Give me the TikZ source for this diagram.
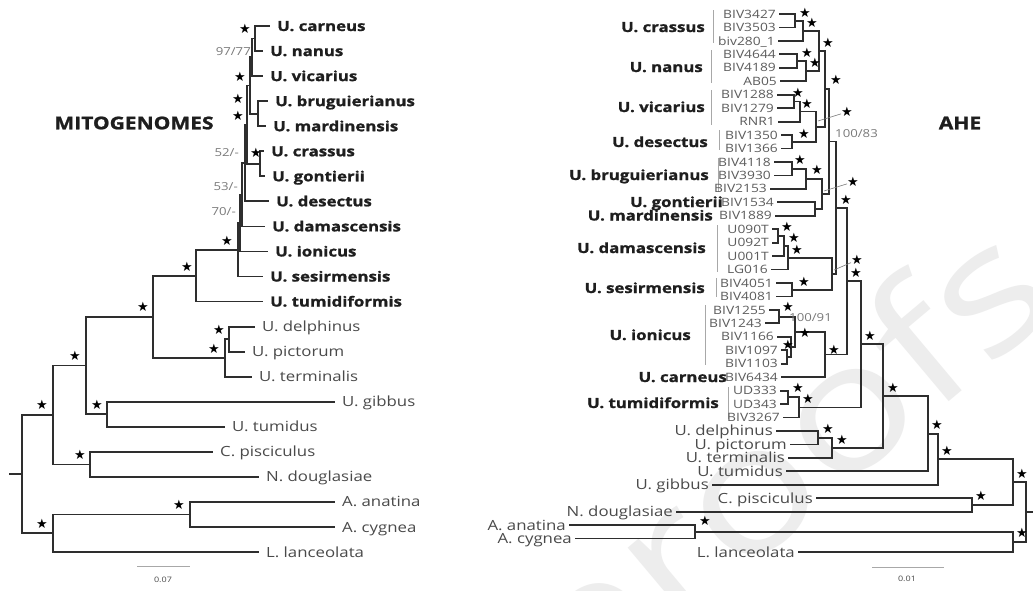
\documentclass[tikz,border=0pt]{standalone}
\usepackage{fontspec}
\setmainfont{Open Sans}[FakeStretch=1.2, BoldFeatures={FakeBold=1.2}]
\newfontfamily\starfont{DejaVu Sans}
\usetikzlibrary{calc}
\definecolor{linec}{HTML}{2E2E2E}
\definecolor{boldc}{HTML}{1E1E1E}
\definecolor{regc}{HTML}{4A4A4A}
\definecolor{tipc}{HTML}{5C5C5C}
\definecolor{numc}{HTML}{7A7A7A}
\definecolor{barc}{HTML}{A8A8A8}
\definecolor{wmc}{HTML}{EDEDED}
\begin{document}
\begin{tikzpicture}[x=1pt,y=-1pt,
  br/.style={draw=linec, line width=1.8pt, line join=miter},
  lb/.style={font=\fontsize{14}{14}\selectfont\bfseries, text=boldc, anchor=west, inner xsep=7pt, inner ysep=0pt, text height=10pt, text depth=0pt},
  lr/.style={font=\fontsize{14}{14}\selectfont, text=regc, anchor=west, inner xsep=7pt, inner ysep=0pt, text height=10pt, text depth=0pt},
  rb/.style={font=\fontsize{14}{14}\selectfont\bfseries, text=boldc, anchor=east, inner sep=0pt, text height=10pt, text depth=0pt},
  rr/.style={font=\fontsize{14}{14}\selectfont, text=regc, anchor=east, inner xsep=3pt, inner ysep=0pt, text height=10pt, text depth=0pt},
  tip/.style={font=\fontsize{11.5}{11.5}\selectfont, text=tipc, anchor=east, inner xsep=3pt, inner ysep=0pt, text height=8.2pt, text depth=0pt},
  st/.style={font=\starfont\fontsize{13}{13}\selectfont, text=black, inner sep=0pt},
  bs/.style={font=\fontsize{11}{11}\selectfont, text=numc, inner sep=0pt},
  title/.style={font=\fontsize{17.5}{17.5}\selectfont\bfseries, text=boldc, inner sep=0pt},
  sbar/.style={draw=barc, line width=0.9pt},
  sepbar/.style={draw=barc, line width=0.9pt},
  lead/.style={draw=numc, line width=0.6pt},
  wmark/.style={font=\fontsize{175}{175}\selectfont, text=wmc, inner sep=0pt}
]
\useasboundingbox[fill=white] (0,0) rectangle (1033,590);
\node[wmark, rotate=40] (wm) at (790,475) {proofs};

% ================= LEFT: MITOGENOMES =================
\node[title] (ltitle) at (134,123) {MITOGENOMES};

\node[lb] (carneus) at (270,26) {U. carneus};
\node[lb] (nanus) at (263,51.05) {U. nanus};
\node[lb] (vicarius) at (263,76.1) {U. vicarius};
\node[lb] (brug) at (268,101.15) {U. bruguierianus};
\node[lb] (mard) at (266,126.2) {U. mardinensis};
\node[lb] (crassus) at (264,151.25) {U. crassus};
\node[lb] (gont) at (265,176.3) {U. gontierii};
\node[lb] (desectus) at (269,201.35) {U. desectus};
\node[lb] (damasc) at (265,226.4) {U. damascensis};
\node[lb] (ionicus) at (268,251.45) {U. ionicus};
\node[lb] (sesir) at (263,276.5) {U. sesirmensis};
\node[lb] (tumidif) at (263,301.55) {U. tumidiformis};
\node[lr] (delph) at (255,326.6) {U. delphinus};
\node[lr] (pict) at (245,351.65) {U. pictorum};
\node[lr] (termin) at (252,376.7) {U. terminalis};
\node[lr] (gibbus) at (335,401.75) {U. gibbus};
\node[lr] (tumidus) at (225,426.8) {U. tumidus};
\node[lr] (pisc) at (213,451.85) {C. pisciculus};
\node[lr] (doug) at (259,476.9) {N. douglasiae};
\node[lr] (anat) at (335,501.95) {A. anatina};
\node[lr] (cyg) at (335,527) {A. cygnea};
\node[lr] (lanc) at (259,552.05) {L. lanceolata};

\coordinate (ncn) at (255,38.5);
\coordinate (ncnv) at (252,57.3);
\coordinate (nbm) at (258,113.7);
\coordinate (np2) at (250,85.5);
\coordinate (ncg) at (260,163.8);
\coordinate (np3) at (247,124.6);
\coordinate (np4) at (245,163.0);
\coordinate (np5) at (242,194.7);
\coordinate (np6) at (240,223.1);
\coordinate (nE) at (238,249.8);
\coordinate (nD) at (196,275.7);
\coordinate (ndp) at (229,339.1);
\coordinate (nQ) at (225,357.9);
\coordinate (nC) at (153,316.8);
\coordinate (nG) at (107,414.3);
\coordinate (nB) at (86,365.5);
\coordinate (nH) at (90,464.4);
\coordinate (nA) at (53,415.0);
\coordinate (nM) at (190,514.5);
\coordinate (nL) at (53,533.3);
\coordinate (lroot) at (22,474.1);
\coordinate (lstub) at (9,474.1);

\draw[br] (ncn) |- (carneus.west);
\draw[br] (ncn) |- (nanus.west);
\draw[br] (ncnv) |- (ncn);
\draw[br] (ncnv) |- (vicarius.west);
\draw[br] (nbm) |- (brug.west);
\draw[br] (nbm) |- (mard.west);
\draw[br] (np2) |- (ncnv);
\draw[br] (np2) |- (nbm);
\draw[br] (ncg) |- (crassus.west);
\draw[br] (ncg) |- (gont.west);
\draw[br] (np3) |- (np2);
\draw[br] (np3) |- (ncg);
\draw[br] (np4) |- (np3);
\draw[br] (np4) |- (desectus.west);
\draw[br] (np5) |- (np4);
\draw[br] (np5) |- (damasc.west);
\draw[br] (np6) |- (np5);
\draw[br] (np6) |- (ionicus.west);
\draw[br] (nE) |- (np6);
\draw[br] (nE) |- (sesir.west);
\draw[br] (nD) |- (nE);
\draw[br] (nD) |- (tumidif.west);
\draw[br] (ndp) |- (delph.west);
\draw[br] (ndp) |- (pict.west);
\draw[br] (nQ) |- (ndp);
\draw[br] (nQ) |- (termin.west);
\draw[br] (nC) |- (nD);
\draw[br] (nC) |- (nQ);
\draw[br] (nG) |- (gibbus.west);
\draw[br] (nG) |- (tumidus.west);
\draw[br] (nB) |- (nC);
\draw[br] (nB) |- (nG);
\draw[br] (nH) |- (pisc.west);
\draw[br] (nH) |- (doug.west);
\draw[br] (nA) |- (nB);
\draw[br] (nA) |- (nH);
\draw[br] (nM) |- (anat.west);
\draw[br] (nM) |- (cyg.west);
\draw[br] (nL) |- (nM);
\draw[br] (nL) |- (lanc.west);
\draw[br] (lroot) |- (nA);
\draw[br] (lroot) |- (nL);
\draw[br] (lstub) -- (lroot);

\foreach \p in {(245,29),(240,77),(238,99),(238,116),(256,153),(227,241),(187,267),(143,307),(75,356),(219,330),(214,349),(97,405),(42,405),(80,455),(179,505),(42,524)}
  \node[st] at \p {★};
\node[bs, anchor=east] (b9777) at (251,52) {97/77};
\node[bs, anchor=east] (b52) at (239,153) {52/-};
\node[bs, anchor=east] (b53) at (238,187) {53/-};
\node[bs, anchor=east] (b70) at (236,212) {70/-};

\coordinate (lsb1) at (137,566);
\coordinate (lsb2) at (190,566);
\draw[sbar] (lsb1) -- (lsb2);
\node[font=\fontsize{7.5}{7.5}\selectfont, text=regc] (lsbt) at (163,580) {0.07};

% ================= RIGHT: AHE =================
\node[title] (rtitle) at (960,123) {AHE};

\node[rb] (gcr) at (705,27) {U. crassus};
\node[rb] (gna) at (703,67) {U. nanus};
\node[rb] (gvi) at (705,107) {U. vicarius};
\node[rb] (gde) at (708,142) {U. desectus};
\node[rb] (gbr) at (709,175) {U. bruguierianus};
\node[rb] (ggo) at (723,202) {U. gontierii};
\node[rb] (gma) at (713,215.5) {U. mardinensis};
\node[rb] (gda) at (706,248) {U. damascensis};
\node[rb] (gse) at (705,288) {U. sesirmensis};
\node[rb] (gio) at (691,335) {U. ionicus};
\node[rb] (gca) at (727,377) {U. carneus};
\node[rb] (gtu) at (719,403) {U. tumidiformis};
\draw[sepbar] (713,10) -- (713,43);
\draw[sepbar] (711,50) -- (711,83);
\draw[sepbar] (711,90) -- (711,125);
\draw[sepbar] (719,130) -- (719,150);
\draw[sepbar] (718,158) -- (718,192);
\draw[sepbar] (717,225) -- (717,272);
\draw[sepbar] (716,278) -- (716,297);
\draw[sepbar] (705,305) -- (705,365);
\draw[sepbar] (728,387) -- (728,419);

\node[tip] (t0) at (779,14.0) {BIV3427};
\node[tip] (t1) at (779,27.45) {BIV3503};
\node[tip] (t2) at (778,40.9) {biv280\_1};
\node[tip] (t3) at (779,54.35) {BIV4644};
\node[tip] (t4) at (779,67.8) {BIV4189};
\node[tip] (t5) at (780,81.25) {AB05};
\node[tip] (t6) at (777,94.7) {BIV1288};
\node[tip] (t7) at (777,108.15) {BIV1279};
\node[tip] (t8) at (778,121.6) {RNR1};
\node[tip] (t9) at (781,135.05) {BIV1350};
\node[tip] (t10) at (781,148.5) {BIV1366};
\node[tip] (t11) at (774,161.95) {BIV4118};
\node[tip] (t12) at (774,175.4) {BIV3930};
\node[tip] (t13) at (770,188.85) {BIV2153};
\node[tip] (t14) at (777,202.3) {BIV1534};
\node[tip] (t15) at (775,215.75) {BIV1889};
\node[tip] (t16) at (772,229.2) {U090T};
\node[tip] (t17) at (772,242.65) {U092T};
\node[tip] (t18) at (772,256.1) {U001T};
\node[tip] (t19) at (771,269.55) {LG016};
\node[tip] (t20) at (776,283.0) {BIV4051};
\node[tip] (t21) at (776,296.45) {BIV4081};
\node[tip] (t22) at (769,309.9) {BIV1255};
\node[tip] (t23) at (765,323.35) {BIV1243};
\node[tip] (t24) at (777,336.8) {BIV1166};
\node[tip] (t25) at (781,350.25) {BIV1097};
\node[tip] (t26) at (781,363.7) {BIV1103};
\node[tip] (t27) at (781,377.15) {BIV6434};
\node[tip] (t28) at (780,390.6) {UD333};
\node[tip] (t29) at (780,404.05) {UD343};
\node[tip] (t30) at (783,417.5) {BIV3267};
\node[rr] (t31) at (776,430.95) {U. delphinus};
\node[rr] (t32) at (790,444.4) {U. pictorum};
\node[rr] (t33) at (788,457.85) {U. terminalis};
\node[rr] (t34) at (786,471.3) {U. tumidus};
\node[rr] (t35) at (712,484.75) {U. gibbus};
\node[rr] (t36) at (816,498.2) {C. pisciculus};
\node[rr] (t37) at (676,511.65) {N. douglasiae};
\node[rr] (t38) at (569,525.1) {A. anatina};
\node[rr] (t39) at (575,538.55) {A. cygnea};
\node[rr] (t40) at (798,552.0) {L. lanceolata};

\coordinate (Ncr1) at (795,20.7);
\coordinate (Ncr) at (803,30.8);
\coordinate (Nna1) at (797,61.1);
\coordinate (Nna) at (806,71.2);
\coordinate (Ntop1) at (819,51.0);
\coordinate (Nvi1) at (794,101.4);
\coordinate (Nvi) at (800,111.5);
\coordinate (Nde) at (792,141.8);
\coordinate (Ntop2) at (816,126.6);
\coordinate (Ntop) at (825,88.8);
\coordinate (Nbr1) at (792,168.7);
\coordinate (Nbr) at (806,178.8);
\coordinate (Ngm) at (815,209.0);
\coordinate (Nbg) at (822,193.9);
\coordinate (Nmid) at (829,141.4);
\coordinate (Nda1) at (778,235.9);
\coordinate (Nda2) at (784,246.0);
\coordinate (Nda) at (788,257.8);
\coordinate (Nse) at (792,289.7);
\coordinate (Ndase) at (832,273.8);
\coordinate (Nup) at (836,207.6);
\coordinate (Nio1) at (779,316.6);
\coordinate (Nio2) at (787,357.0);
\coordinate (Nio3) at (791,346.9);
\coordinate (Nio) at (795,331.8);
\coordinate (Nioca) at (825,354.5);
\coordinate (Nup2) at (847,281.1);
\coordinate (Ntu1) at (788,397.3);
\coordinate (Ntu) at (799,407.4);
\coordinate (N5) at (861,344.3);
\coordinate (Ndp) at (818,437.7);
\coordinate (Ndpt) at (832,447.8);
\coordinate (N6) at (883,396.1);
\coordinate (N7) at (928,433.7);
\coordinate (N8) at (938,459.2);
\coordinate (Npd) at (972,504.9);
\coordinate (N9) at (1013,482.1);
\coordinate (Nac) at (695,531.8);
\coordinate (Nol) at (1013,541.9);
\coordinate (Rroot) at (1026,512.0);
\coordinate (rstub) at (1033,512.0);

\draw[br] (Ncr1) |- (t0.east);
\draw[br] (Ncr1) |- (t1.east);
\draw[br] (Ncr) |- (Ncr1);
\draw[br] (Ncr) |- (t2.east);
\draw[br] (Nna1) |- (t3.east);
\draw[br] (Nna1) |- (t4.east);
\draw[br] (Nna) |- (Nna1);
\draw[br] (Nna) |- (t5.east);
\draw[br] (Ntop1) |- (Ncr);
\draw[br] (Ntop1) |- (Nna);
\draw[br] (Nvi1) |- (t6.east);
\draw[br] (Nvi1) |- (t7.east);
\draw[br] (Nvi) |- (Nvi1);
\draw[br] (Nvi) |- (t8.east);
\draw[br] (Nde) |- (t9.east);
\draw[br] (Nde) |- (t10.east);
\draw[br] (Ntop2) |- (Nvi);
\draw[br] (Ntop2) |- (Nde);
\draw[br] (Ntop) |- (Ntop1);
\draw[br] (Ntop) |- (Ntop2);
\draw[br] (Nbr1) |- (t11.east);
\draw[br] (Nbr1) |- (t12.east);
\draw[br] (Nbr) |- (Nbr1);
\draw[br] (Nbr) |- (t13.east);
\draw[br] (Ngm) |- (t14.east);
\draw[br] (Ngm) |- (t15.east);
\draw[br] (Nbg) |- (Nbr);
\draw[br] (Nbg) |- (Ngm);
\draw[br] (Nmid) |- (Ntop);
\draw[br] (Nmid) |- (Nbg);
\draw[br] (Nda1) |- (t16.east);
\draw[br] (Nda1) |- (t17.east);
\draw[br] (Nda2) |- (Nda1);
\draw[br] (Nda2) |- (t18.east);
\draw[br] (Nda) |- (Nda2);
\draw[br] (Nda) |- (t19.east);
\draw[br] (Nse) |- (t20.east);
\draw[br] (Nse) |- (t21.east);
\draw[br] (Ndase) |- (Nda);
\draw[br] (Ndase) |- (Nse);
\draw[br] (Nup) |- (Nmid);
\draw[br] (Nup) |- (Ndase);
\draw[br] (Nio1) |- (t22.east);
\draw[br] (Nio1) |- (t23.east);
\draw[br] (Nio2) |- (t25.east);
\draw[br] (Nio2) |- (t26.east);
\draw[br] (Nio3) |- (t24.east);
\draw[br] (Nio3) |- (Nio2);
\draw[br] (Nio) |- (Nio1);
\draw[br] (Nio) |- (Nio3);
\draw[br] (Nioca) |- (Nio);
\draw[br] (Nioca) |- (t27.east);
\draw[br] (Nup2) |- (Nup);
\draw[br] (Nup2) |- (Nioca);
\draw[br] (Ntu1) |- (t28.east);
\draw[br] (Ntu1) |- (t29.east);
\draw[br] (Ntu) |- (Ntu1);
\draw[br] (Ntu) |- (t30.east);
\draw[br] (N5) |- (Nup2);
\draw[br] (N5) |- (Ntu);
\draw[br] (Ndp) |- (t31.east);
\draw[br] (Ndp) |- (t32.east);
\draw[br] (Ndpt) |- (Ndp);
\draw[br] (Ndpt) |- (t33.east);
\draw[br] (N6) |- (N5);
\draw[br] (N6) |- (Ndpt);
\draw[br] (N7) |- (N6);
\draw[br] (N7) |- (t34.east);
\draw[br] (N8) |- (N7);
\draw[br] (N8) |- (t35.east);
\draw[br] (Npd) |- (t36.east);
\draw[br] (Npd) |- (t37.east);
\draw[br] (N9) |- (N8);
\draw[br] (N9) |- (Npd);
\draw[br] (Nac) |- (t38.east);
\draw[br] (Nac) |- (t39.east);
\draw[br] (Nol) |- (Nac);
\draw[br] (Nol) |- (t40.east);
\draw[br] (Rroot) |- (N9);
\draw[br] (Rroot) |- (Nol);
\draw[br] (Rroot) -- (rstub);

\foreach \p in {(805,13),(812,23),(807,53),(815,63),(828,43),(798,93),(807,104),(804,134),(836,80),(800,160),(817,170),(787,227),(794,238),(797,250),(804,282),(846,200),(856,273),(788,307),(805,333),(788,345),(834,350),(798,388),(808,399),(870,336),(828,429),(842,440),(893,388),(937,425),(947,451),(981,496),(1022,474),(705,521),(1022,533)}
  \node[st] at \p {★};
\coordinate (l1a) at (818,121); \node[st] (s1) at (847,112) {★};
\draw[lead] (l1a) -- (s1);
\coordinate (l2a) at (824,191); \node[st] (s2) at (853,182) {★};
\draw[lead] (l2a) -- (s2);
\coordinate (l3a) at (834,270); \node[st] (s3) at (857,260) {★};
\draw[lead] (l3a) -- (s3);

\node[bs, anchor=west] (b10083) at (835,134) {100/83};
\node[bs, anchor=west] (b10091) at (789,318) {100/91};

\coordinate (rsb1) at (872,567);
\coordinate (rsb2) at (944,567);
\draw[sbar] (rsb1) -- (rsb2);
\node[font=\fontsize{7.5}{7.5}\selectfont, text=regc] (rsbt) at (907,579) {0.01};
\end{tikzpicture}
\end{document}
